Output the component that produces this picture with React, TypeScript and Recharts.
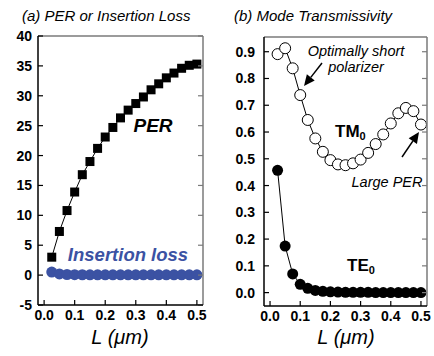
import { LineChart, Line, XAxis, YAxis } from "recharts";

// channel length L (um)
const lengths = [0.025, 0.05, 0.075, 0.1, 0.125, 0.15, 0.175, 0.2, 0.225, 0.25, 0.275, 0.3, 0.325, 0.35, 0.375, 0.4, 0.425, 0.45, 0.475, 0.5];

// (a) PER and insertion loss (dB)
const perValues = [3.0, 7.3, 10.8, 13.9, 16.8, 19.0, 21.2, 23.1, 24.7, 26.3, 27.6, 28.7, 29.8, 31.0, 32.0, 33.0, 33.8, 34.6, 35.1, 35.3];
const insertionLoss = [0.5, 0.2, 0.1, 0.08, 0.06, 0.05, 0.05, 0.05, 0.05, 0.05, 0.05, 0.05, 0.05, 0.05, 0.05, 0.05, 0.05, 0.05, 0.05, 0.05];

// (b) mode transmissivity
const tmValues = [0.891, 0.913, 0.838, 0.738, 0.645, 0.576, 0.526, 0.495, 0.479, 0.476, 0.483, 0.497, 0.522, 0.555, 0.591, 0.632, 0.67, 0.69, 0.678, 0.628];
const teValues = [0.457, 0.174, 0.07, 0.031, 0.016, 0.008, 0.005, 0.003, 0.002, 0.001, 0.001, 0.001, 0.001, 0, 0, 0, 0, 0, 0, 0];

const xTicks = [0, 0.1, 0.2, 0.3, 0.4, 0.5];
const perTicks = [-5, 0, 5, 10, 15, 20, 25, 30, 35, 40];
const transTicks = [0, 0.1, 0.2, 0.3, 0.4, 0.5, 0.6, 0.7, 0.8, 0.9];

const xDomain = [-0.02, 0.52];
const perDomain = [-5, 40];
const transDomain = [-0.05, 0.955];

const leftData = lengths.map((L, i) => ({ L, per: perValues[i], il: insertionLoss[i] }));
const rightData = lengths.map((L, i) => ({ L, tm: tmValues[i], te: teValues[i] }));

const FONT = "'Liberation Sans', Arial, Helvetica, sans-serif";
const GRAY = "#7a7a7a";
const BLUE = "#3b52a3";

// plot frames (page px); the right chart sits at x offset 217
const leftBox = { l: 38, r: 203, t: 36, b: 305 };
const rightBox = { l: 264, r: 427, t: 37, b: 306 };
const RIGHT_OFFSET = 217;

const squareDot = (p: any) => {
  if (p.cx == null || p.cy == null) return <g key={p.index} />;
  return <rect key={p.index} x={p.cx - 4.5} y={p.cy - 4.5} width={9} height={9} fill="#000" />;
};

const blueDot = (p: any) => {
  if (p.cx == null || p.cy == null) return <g key={p.index} />;
  return <circle key={p.index} cx={p.cx} cy={p.cy} r={5.5} fill={BLUE} />;
};

const openDot = (p: any) => {
  if (p.cx == null || p.cy == null) return <g key={p.index} />;
  return <circle key={p.index} cx={p.cx} cy={p.cy} r={5.5} fill="#fff" stroke="#000" strokeWidth={1} />;
};

const filledDot = (p: any) => {
  if (p.cx == null || p.cy == null) return <g key={p.index} />;
  return <circle key={p.index} cx={p.cx} cy={p.cy} r={5.5} fill="#000" />;
};

const fmt1 = (v: number) => v.toFixed(1);
const tickFont = { fontSize: 14, fontWeight: "bold", fill: "#000", fontFamily: FONT };

// frame with inward tick marks, in the same style as the original plot
function Frame({ box, yDomain, yTicks }: { box: any; yDomain: number[]; yTicks: number[] }) {
  const sx = (v: number) => box.l + ((v - xDomain[0]) / (xDomain[1] - xDomain[0])) * (box.r - box.l);
  const sy = (v: number) => box.b - ((v - yDomain[0]) / (yDomain[1] - yDomain[0])) * (box.b - box.t);
  return (
    <g>
      <line x1={box.l} y1={box.t} x2={box.r} y2={box.t} stroke={GRAY} strokeWidth={1.5} />
      <line x1={box.r} y1={box.t} x2={box.r} y2={box.b} stroke={GRAY} strokeWidth={1.5} />
      {yTicks.map((v) => (
        <g key={v}>
          <line x1={box.l} y1={sy(v)} x2={box.l + 5} y2={sy(v)} stroke="#000" strokeWidth={1.2} />
          <line x1={box.r - 5} y1={sy(v)} x2={box.r} y2={sy(v)} stroke={GRAY} strokeWidth={1.2} />
        </g>
      ))}
      {xTicks.map((v) => (
        <line key={v} x1={sx(v)} y1={box.b} x2={sx(v)} y2={box.b - 5} stroke="#000" strokeWidth={1.2} />
      ))}
      <line x1={box.l} y1={box.t} x2={box.l} y2={box.b} stroke="#000" strokeWidth={1.5} />
      <line x1={box.l} y1={box.b} x2={box.r} y2={box.b} stroke="#000" strokeWidth={1.5} />
    </g>
  );
}

function Arrow({ x1, y1, x2, y2 }: { x1: number; y1: number; y2: number; x2: number }) {
  const a = Math.atan2(y2 - y1, x2 - x1);
  const len = 11;
  const w = 5;
  const bx = x2 - len * Math.cos(a);
  const by = y2 - len * Math.sin(a);
  const px = -Math.sin(a) * w;
  const py = Math.cos(a) * w;
  return (
    <g>
      <line x1={x1} y1={y1} x2={bx} y2={by} stroke="#000" strokeWidth={1.5} />
      <polygon points={`${x2},${y2} ${bx + px},${by + py} ${bx - px},${by - py}`} fill="#000" />
    </g>
  );
}

export default function App() {
  return (
    <div style={{ position: "absolute", left: 0, top: 0, width: 434, height: 356, fontFamily: FONT }}>
      <div style={{ position: "absolute", left: 0, top: 0 }}>
        <LineChart width={217} height={356} data={leftData} margin={{ top: leftBox.t, right: 217 - leftBox.r, left: 0, bottom: 0 }}>
          <XAxis dataKey="L" type="number" domain={xDomain} ticks={xTicks} tickFormatter={fmt1} height={356 - leftBox.b} axisLine={false} tickLine={false} tickSize={0} tickMargin={5} tick={tickFont} interval={0} />
          <YAxis type="number" domain={perDomain} ticks={perTicks} width={leftBox.l} axisLine={false} tickLine={false} tickSize={0} tickMargin={6} tick={tickFont} interval={0} />
          <Line dataKey="il" stroke={BLUE} strokeWidth={1} dot={blueDot} isAnimationActive={false} />
          <Line dataKey="per" stroke="#000" strokeWidth={1} dot={squareDot} isAnimationActive={false} />
        </LineChart>
      </div>
      <div style={{ position: "absolute", left: RIGHT_OFFSET, top: 0 }}>
        <LineChart width={217} height={356} data={rightData} margin={{ top: rightBox.t, right: 434 - rightBox.r, left: 0, bottom: 0 }}>
          <XAxis dataKey="L" type="number" domain={xDomain} ticks={xTicks} tickFormatter={fmt1} height={356 - rightBox.b} axisLine={false} tickLine={false} tickSize={0} tickMargin={5} tick={tickFont} interval={0} />
          <YAxis type="number" domain={transDomain} ticks={transTicks} tickFormatter={fmt1} width={rightBox.l - RIGHT_OFFSET} axisLine={false} tickLine={false} tickSize={0} tickMargin={9} tick={tickFont} interval={0} />
          <Line dataKey="te" stroke="#000" strokeWidth={1} dot={filledDot} isAnimationActive={false} />
          <Line dataKey="tm" stroke="#000" strokeWidth={1} dot={openDot} isAnimationActive={false} />
        </LineChart>
      </div>
      <svg width={434} height={356} style={{ position: "absolute", left: 0, top: 0, pointerEvents: "none" }} fontFamily={FONT}>
        <Frame box={leftBox} yDomain={perDomain} yTicks={perTicks} />
        <Frame box={rightBox} yDomain={transDomain} yTicks={transTicks} />
        <text x={22} y={21} fontSize={15} fontStyle="italic">(a) PER or Insertion Loss</text>
        <text x={234} y={21} fontSize={15} fontStyle="italic">(b) Mode Transmissivity</text>
        <text x={153} y={132} fontSize={19} fontStyle="italic" fontWeight="bold" textAnchor="middle">PER</text>
        <text x={128} y={261} fontSize={18.5} fontStyle="italic" fontWeight="bold" textAnchor="middle" fill={BLUE}>Insertion loss</text>
        <text x={120} y={344} fontSize={20} fontStyle="italic" textAnchor="middle">L (μm)</text>
        <text x={346} y={344} fontSize={20} fontStyle="italic" textAnchor="middle">L (μm)</text>
        <text x={356} y={56} fontSize={14.5} fontStyle="italic" textAnchor="middle">Optimally short</text>
        <text x={356} y={72} fontSize={14.5} fontStyle="italic" textAnchor="middle">polarizer</text>
        <text x={387} y={187} fontSize={14.5} fontStyle="italic" textAnchor="middle">Large PER</text>
        <text x={335} y={137} fontSize={17} fontWeight="bold">TM<tspan fontSize={11} dy={3}>0</tspan></text>
        <text x={347} y={271} fontSize={17} fontWeight="bold">TE<tspan fontSize={11} dy={3}>0</tspan></text>
        <Arrow x1={322} y1={63} x2={304} y2={86} />
        <Arrow x1={402} y1={157} x2={419} y2={132} />
      </svg>
    </div>
  );
}
